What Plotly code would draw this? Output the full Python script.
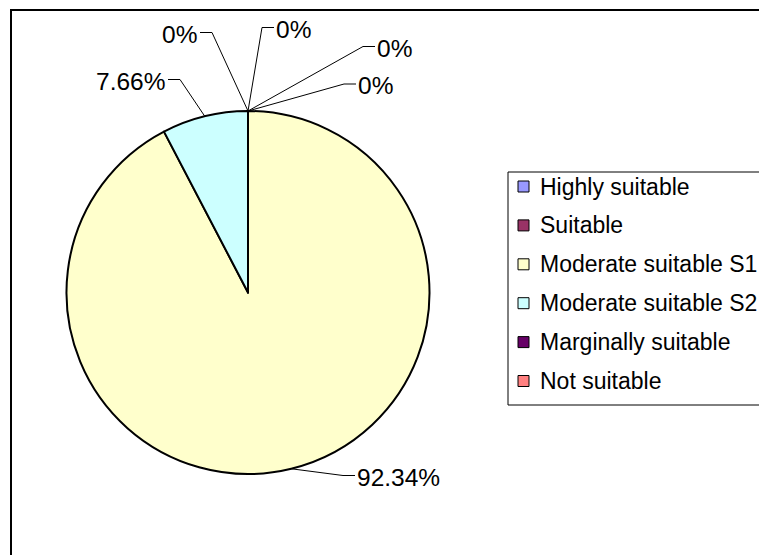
import math
import plotly.graph_objects as go

# Land suitability classes and their share of the area (%)
categories = ["Highly suitable", "Suitable", "Moderate suitable S1",
              "Moderate suitable S2", "Marginally suitable", "Not suitable"]
shares = [0, 0, 92.34, 7.66, 0, 0]
colors = ["#9999FF", "#993366", "#FFFFCC", "#CCFFFF", "#660066", "#FF8080"]

W, H = 759, 555
FONT = "Liberation Sans, Arial, sans-serif"


def px(x):
    return x / W


def py(y):
    return 1 - y / H


# pie geometry in pixels
CX, CY, R = 248, 292.5, 181.5

fig = go.Figure(go.Pie(
    labels=categories,
    values=shares,
    marker=dict(colors=colors, line=dict(color="black", width=2)),
    sort=False,
    direction="clockwise",
    rotation=0,
    textinfo="none",
    showlegend=False,
    domain=dict(x=[px(CX - R), px(CX + R)], y=[py(CY + R), py(CY - R)]),
))

# label placement per slice: (text anchor x, text y, side)
label_pos = [
    (358, 85.5, "left"),
    (276, 29, "left"),
    (357, 477, "left"),
    (165, 81, "right"),
    (197, 34, "right"),
    (377, 48, "left"),
]

shapes = []
annotations = []
total = sum(shares)
cum = 0.0
for val, (tx, ty, side) in zip(shares, label_pos):
    mid = (cum + val / 2) / total * 2 * math.pi
    cum += val
    ex = CX + R * math.sin(mid)
    ey = CY - R * math.cos(mid)
    ly = ty - 1.5
    if side == "left":
        hx0, hx1 = tx - 14, tx - 2
    else:
        hx0, hx1 = tx + 15, tx + 3
    path = (f"M {px(ex)},{py(ey)} L {px(hx0)},{py(ly)} L {px(hx1)},{py(ly)}")
    shapes.append(dict(type="path", path=path, xref="paper", yref="paper",
                       line=dict(color="black", width=1)))
    annotations.append(dict(
        x=px(tx), y=py(ty), xref="paper", yref="paper",
        text=f"{val:g}%", showarrow=False,
        xanchor="left" if side == "left" else "right", yanchor="middle",
        borderpad=0, borderwidth=0,
        font=dict(family=FONT, size=24.5, color="black"),
    ))

# chart area frame
shapes.append(dict(type="rect", xref="paper", yref="paper",
                   x0=px(11), y0=py(10), x1=1.2, y1=-0.2,
                   line=dict(color="black", width=2)))

# legend box
shapes.append(dict(type="rect", xref="paper", yref="paper",
                   x0=px(508), y0=py(172), x1=1.2, y1=py(405),
                   fillcolor="white", line=dict(color="black", width=1)))

row0, step = 186.5, 38.9
for i, (name, col) in enumerate(zip(categories, colors)):
    yc = row0 + i * step
    shapes.append(dict(type="rect", xref="paper", yref="paper",
                       x0=px(518), x1=px(529), y0=py(yc + 5.5), y1=py(yc - 5.5),
                       fillcolor=col, line=dict(color="black", width=1)))
    annotations.append(dict(
        x=px(540), y=py(yc), xref="paper", yref="paper",
        text=name, showarrow=False, xanchor="left", yanchor="middle",
        borderpad=0, borderwidth=0,
        font=dict(family=FONT, size=23, color="black"),
    ))

fig.update_layout(
    width=W, height=H,
    margin=dict(l=0, r=0, t=0, b=0, autoexpand=False),
    paper_bgcolor="white", plot_bgcolor="white",
    shapes=shapes, annotations=annotations,
)

fig.write_html("out.html")
